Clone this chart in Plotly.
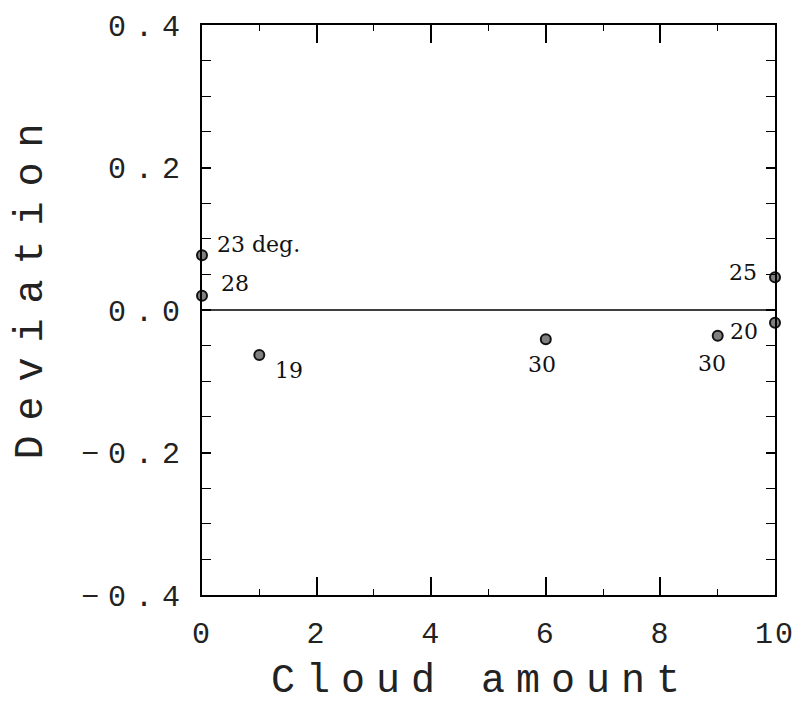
import plotly.graph_objects as go

# Data
cloud = [0, 0, 1, 6, 9, 10, 10]
deviation = [0.077, 0.020, -0.063, -0.041, -0.036, 0.046, -0.018]
labels = ["23 deg.", "28", "19", "30", "30", "25", "20"]
# label placement (pixel offsets / anchors), styling only
label_dx = [13, 17, 14, -4, -6, -16, -15]
label_dy = [11, 12, -16, -25, -28, 5, -9]
label_anchor = ["left", "left", "left", "center", "center", "right", "right"]

x_tickvals = [0, 2, 4, 6, 8, 10]
y_tickvals = [-0.4, -0.2, 0.0, 0.2, 0.4]
y_ticklabels = ["\u22120.4", "\u22120.2", "0.0", "0.2", "0.4"]

MONO = "Liberation Mono"
SERIF = "DejaVu Serif"


def spaced(s, ls):
    return f'<span style="letter-spacing:{ls}px">{s}</span>'


fig = go.Figure()

# zero reference line
fig.add_trace(go.Scatter(
    x=[0, 10], y=[0, 0], mode="lines",
    line=dict(color="black", width=1.5), hoverinfo="skip", showlegend=False,
))

fig.add_trace(go.Scatter(
    x=cloud, y=deviation, mode="markers",
    marker=dict(size=10, color="#808080", line=dict(color="#111111", width=2)),
    cliponaxis=False, showlegend=False,
))

for xv, yv, t, dx, dy, anc in zip(cloud, deviation, labels, label_dx, label_dy, label_anchor):
    fig.add_annotation(
        x=xv, y=yv, xref="x", yref="y", text=t, showarrow=False,
        xanchor=anc, yanchor="middle", xshift=dx, yshift=dy,
        font=dict(family=SERIF, size=22, color="#111111"),
    )

# axis titles
fig.add_annotation(
    x=0.487, y=-0.151, xref="paper", yref="paper", showarrow=False,
    text=spaced("Cloud amount", 11), xanchor="center", yanchor="middle",
    font=dict(family=MONO, size=40, color="#222222"),
)
fig.add_annotation(
    x=-0.298, y=0.545, xref="paper", yref="paper", showarrow=False,
    text=spaced("Deviation", 15), textangle=-90, xanchor="center", yanchor="middle",
    font=dict(family=MONO, size=40, color="#222222"),
)

fig.update_xaxes(
    range=[0, 10], tickmode="array", tickvals=x_tickvals,
    ticktext=[spaced(str(v), 2) for v in x_tickvals],
    ticks="inside", ticklen=18, tickwidth=1.5, tickcolor="black",
    minor=dict(dtick=1, ticks="inside", ticklen=6, tickwidth=1.2, tickcolor="black"),
    showline=True, linecolor="black", linewidth=2, mirror="ticks",
    showgrid=False, zeroline=False, automargin=False,
    tickfont=dict(family=MONO, size=30, color="#222222"),
    ticklabelstandoff=10, ticklabeloverflow="allow",
)
fig.update_yaxes(
    range=[-0.4, 0.4], tickmode="array", tickvals=y_tickvals,
    ticktext=[spaced(s, 9) for s in y_ticklabels],
    ticks="inside", ticklen=9, tickwidth=1.5, tickcolor="black",
    minor=dict(dtick=0.05, ticks="inside", ticklen=9, tickwidth=1.2, tickcolor="black"),
    showline=True, linecolor="black", linewidth=2, mirror="ticks",
    showgrid=False, zeroline=False, automargin=False,
    tickfont=dict(family=MONO, size=30, color="#222222"),
    ticklabelstandoff=5, ticklabeloverflow="allow",
)

fig.update_layout(
    width=797, height=706,
    margin=dict(l=202, r=22, t=25, b=111),
    paper_bgcolor="white", plot_bgcolor="white",
    showlegend=False,
)

fig.write_html("out.html")
